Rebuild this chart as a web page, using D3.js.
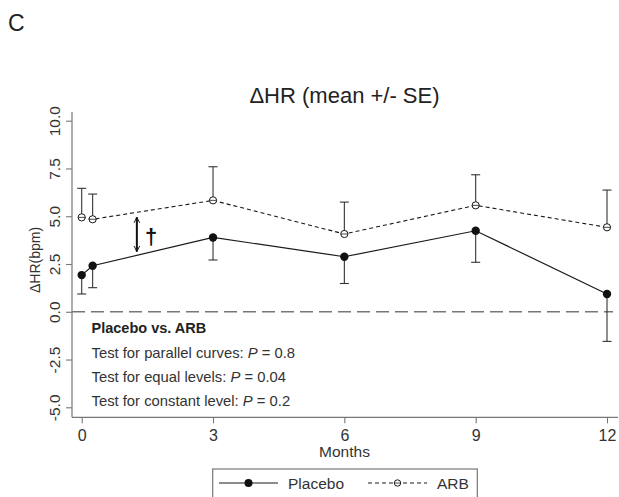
<!DOCTYPE html>
<html>
<head>
<meta charset="utf-8">
<script src="https://cdn.jsdelivr.net/npm/d3@7"></script>
<style>
  html, body { margin: 0; padding: 0; background: #fff; }
  svg { display: block; font-family: "Liberation Sans", Arial, sans-serif; }
</style>
</head>
<body>
<svg id="chart" width="619" height="497"></svg>
<script>
// Visit times (months) and change in heart rate, mean and one-sided SE bounds
const months = [0, 0.25, 3, 6, 9, 12];
const placeboMean = [1.92, 2.41, 3.89, 2.88, 4.24, 0.93];
const placeboLower = [0.93, 1.26, 2.71, 1.48, 2.59, -1.55];
const arbMean = [4.94, 4.84, 5.83, 4.07, 5.57, 4.42];
const arbUpper = [6.46, 6.16, 7.59, 5.74, 7.17, 6.37];
const xTicks = [0, 3, 6, 9, 12];
const yTicks = [-5, -2.5, 0, 2.5, 5, 7.5, 10];
const testLines = [
  ["Test for parallel curves: ", "0.8"],
  ["Test for equal levels: ", "0.04"],
  ["Test for constant level: ", "0.2"]
];

const svg = d3.select("#chart");
const x = d3.scaleLinear().domain([0, 12]).range([81.7, 607]);
const y = d3.scaleLinear().domain([-5, 10]).range([407.3, 120.7]);
const axisColor = "#777";
const inkColor = "#1a1a1a";
const textColor = "#333";

// Panel letter and title
svg.append("text").attr("x", 8).attr("y", 31).attr("font-size", 23).attr("fill", "#222").text("C");
svg.append("text").attr("x", 344.5).attr("y", 103).attr("text-anchor", "middle")
  .attr("font-size", 22).attr("fill", "#222").text("\u0394HR (mean +/- SE)");

// Y axis
const fmtY = d => d3.format(".1f")(d).replace("\u2212", "-");
const yAxis = svg.append("g").attr("transform", "translate(72,0)")
  .call(d3.axisLeft(y).tickValues(yTicks).tickSize(6).tickFormat(fmtY));
yAxis.attr("font-size", null).attr("font-family", null);
yAxis.select(".domain").remove();
yAxis.append("line").attr("x1", 0).attr("x2", 0).attr("y1", 112).attr("y2", 417.3)
  .attr("stroke", axisColor).attr("stroke-width", 1.2);
yAxis.selectAll(".tick line").attr("stroke", axisColor).attr("stroke-width", 1.1);
yAxis.selectAll(".tick text")
  .style("font-size", "15.5px").attr("fill", textColor)
  .attr("transform", "rotate(-90)")
  .attr("x", 0).attr("y", -12.5).attr("dy", "0").attr("text-anchor", "middle");

svg.append("text").attr("transform", "translate(40,260) rotate(-90)")
  .attr("text-anchor", "middle").style("font-size", "14px").attr("fill", textColor).text("\u0394HR(bpm)");

// X axis
const xAxis = svg.append("g").attr("transform", "translate(0,417.3)")
  .call(d3.axisBottom(x).tickValues(xTicks).tickSize(6).tickFormat(d3.format("d")));
xAxis.attr("font-size", null).attr("font-family", null);
xAxis.select(".domain").remove();
xAxis.append("line").attr("x1", 72).attr("x2", 618).attr("stroke", axisColor).attr("stroke-width", 1.2);
xAxis.selectAll(".tick line").attr("stroke", axisColor).attr("stroke-width", 1.1);
xAxis.selectAll(".tick text").style("font-size", "16px").attr("fill", textColor).attr("y", 24).attr("dy", "0");
svg.append("text").attr("x", 344.5).attr("y", 457).attr("text-anchor", "middle")
  .attr("font-size", 15.5).attr("fill", textColor).text("Months");

// Reference line at zero
svg.append("line").attr("x1", 72).attr("x2", 613).attr("y1", y(0)).attr("y2", y(0))
  .attr("stroke", axisColor).attr("stroke-width", 1.3).attr("stroke-dasharray", "13,6");

// Error bars
const cap = 4.5;
function bars(vals, ends) {
  const g = svg.append("g").attr("stroke", "#333").attr("stroke-width", 1.1);
  months.forEach((m, i) => {
    g.append("line").attr("x1", x(m)).attr("x2", x(m)).attr("y1", y(vals[i])).attr("y2", y(ends[i]));
    g.append("line").attr("x1", x(m) - cap).attr("x2", x(m) + cap).attr("y1", y(ends[i])).attr("y2", y(ends[i]));
  });
}
bars(arbMean, arbUpper);
bars(placeboMean, placeboLower);

// Series lines
const line = d3.line().x((d, i) => x(months[i])).y(d => y(d));
svg.append("path").datum(arbMean).attr("d", line).attr("fill", "none")
  .attr("stroke", inkColor).attr("stroke-width", 1.1).attr("stroke-dasharray", "4,3");
svg.append("path").datum(placeboMean).attr("d", line).attr("fill", "none")
  .attr("stroke", inkColor).attr("stroke-width", 1.2);

// Markers
svg.append("g").selectAll("circle").data(arbMean).join("circle")
  .attr("cx", (d, i) => x(months[i])).attr("cy", d => y(d)).attr("r", 3.6)
  .attr("fill", "#fff").attr("stroke", inkColor).attr("stroke-width", 1);
svg.append("g").selectAll("line").data(arbMean).join("line")
  .attr("x1", (d, i) => x(months[i]) - 3.6).attr("x2", (d, i) => x(months[i]) + 3.6)
  .attr("y1", d => y(d)).attr("y2", d => y(d)).attr("stroke", inkColor).attr("stroke-width", 0.8);
svg.append("g").selectAll("circle").data(placeboMean).join("circle")
  .attr("cx", (d, i) => x(months[i])).attr("cy", d => y(d)).attr("r", 4.2).attr("fill", "#111");

// Double-headed arrow marking the level difference, with dagger
const defs = svg.append("defs");
defs.append("marker").attr("id", "ah").attr("viewBox", "0 0 10 10").attr("refX", 9).attr("refY", 5)
  .attr("markerWidth", 7).attr("markerHeight", 9).attr("orient", "auto-start-reverse")
  .attr("markerUnits", "userSpaceOnUse")
  .append("path").attr("d", "M1,1 L9,5 L1,9").attr("fill", "none").attr("stroke", "#111").attr("stroke-width", 1.4);
svg.append("line").attr("x1", x(1.26)).attr("x2", x(1.26)).attr("y1", y(4.95)).attr("y2", y(3.15))
  .attr("stroke", "#111").attr("stroke-width", 2)
  .attr("marker-start", "url(#ah)").attr("marker-end", "url(#ah)");
svg.append("text").attr("x", 145).attr("y", 244).attr("font-size", 22).attr("font-weight", "bold")
  .attr("fill", "#111").text("\u2020");

// Test results
const tx = 91.5;
svg.append("text").attr("x", tx).attr("y", 333).attr("font-size", 14.5).attr("font-weight", "bold")
  .attr("fill", "#222").text("Placebo vs. ARB");
testLines.forEach((t, i) => {
  const tt = svg.append("text").attr("x", tx).attr("y", 357.5 + i * 24).attr("font-size", 14.8).attr("fill", textColor);
  tt.append("tspan").text(t[0]);
  tt.append("tspan").attr("font-style", "italic").text("P");
  tt.append("tspan").text(" = " + t[1]);
});

// Legend
svg.append("rect").attr("x", 212.7).attr("y", 469).attr("width", 264.6).attr("height", 40)
  .attr("fill", "#fff").attr("stroke", axisColor).attr("stroke-width", 1.2);
svg.append("line").attr("x1", 219).attr("x2", 278).attr("y1", 483).attr("y2", 483)
  .attr("stroke", inkColor).attr("stroke-width", 1.2);
svg.append("circle").attr("cx", 248.5).attr("cy", 483).attr("r", 4).attr("fill", "#111");
svg.append("text").attr("x", 288).attr("y", 489).attr("font-size", 15.5).attr("fill", textColor).text("Placebo");
svg.append("line").attr("x1", 368).attr("x2", 427).attr("y1", 483).attr("y2", 483)
  .attr("stroke", inkColor).attr("stroke-width", 1).attr("stroke-dasharray", "4,3");
svg.append("circle").attr("cx", 397.5).attr("cy", 483).attr("r", 3.2)
  .attr("fill", "#fff").attr("stroke", inkColor).attr("stroke-width", 1);
svg.append("line").attr("x1", 394.3).attr("x2", 400.7).attr("y1", 483).attr("y2", 483)
  .attr("stroke", inkColor).attr("stroke-width", 0.8);
svg.append("text").attr("x", 437).attr("y", 489).attr("font-size", 15.5).attr("fill", textColor).text("ARB");
</script>
</body>
</html>
